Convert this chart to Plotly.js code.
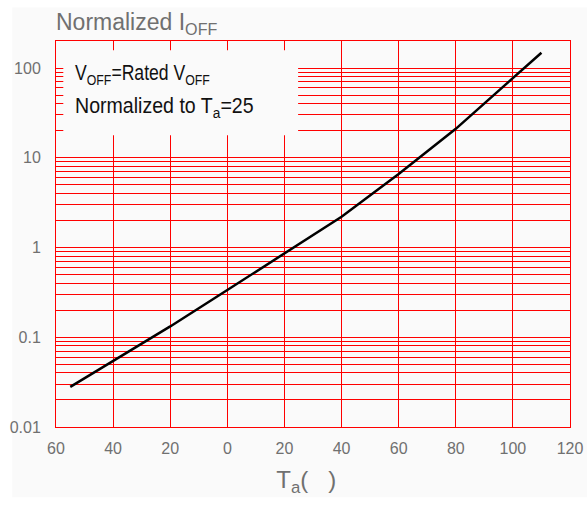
<!DOCTYPE html>
<html>
<head>
<meta charset="utf-8">
<script src="https://cdn.plot.ly/plotly-3.0.1.min.js"></script>
<style>
  html, body { margin: 0; padding: 0; background: #ffffff; width: 587px; height: 506px; overflow: hidden; }
  #chart { position: absolute; left: 0; top: 0; width: 587px; height: 506px; }
</style>
</head>
<body>
<div id="chart"></div>
<script>
// Data
const temperature = [-55, -40, -20, 0, 20, 40, 60, 80, 110];
const normalizedIoff = [0.028, 0.054, 0.132, 0.336, 0.85, 2.2, 6.6, 21, 148];

const xTickValues = [-60, -40, -20, 0, 20, 40, 60, 80, 100, 120];
const xTickLabels = ["60", "40", "20", "0", "20", "40", "60", "80", "100", "120"];

const yDecades = [0.01, 0.1, 1, 10, 100];
const yDecadeLabels = ["0.01", "0.1", "1", "10", "100"];
const yMultipliers = [2, 3, 4, 5, 6, 7, 8, 9];

const yMinorValues = [];
yDecades.forEach(d => {
  yMultipliers.forEach(m => yMinorValues.push(+(d * m).toPrecision(3)));
});

const gray = "#707070";
const baseFont = "Liberation Sans, Arial, sans-serif";

const trace = {
  x: temperature,
  y: normalizedIoff,
  type: "scatter",
  mode: "lines",
  line: { color: "#000000", width: 2.5 },
  hoverinfo: "skip"
};

const layout = {
  width: 587,
  height: 506,
  margin: { l: 56, r: 17, t: 41, b: 79 },
  paper_bgcolor: "#ffffff",
  plot_bgcolor: "#fafafa",
  showlegend: false,
  font: { family: baseFont, color: gray },
  title: {
    text: "Normalized I<sub>OFF</sub>",
    font: { family: baseFont, size: 23, color: gray },
    xref: "paper", x: 0.0, xanchor: "left",
    yref: "container", y: 0.972, yanchor: "top"
  },
  xaxis: {
    range: [-60, 120],
    tickmode: "array",
    tickvals: xTickValues,
    ticktext: xTickLabels,
    ticks: "",
    ticklabelstandoff: 7,
    tickfont: { family: baseFont, size: 16, color: gray },
    showgrid: true, gridcolor: "#ff0000", gridwidth: 1,
    zeroline: false,
    showline: true, linecolor: "#ff0000", linewidth: 1, mirror: true,
    title: { text: "T<sub>a</sub>(   )&nbsp;&nbsp;", font: { family: baseFont, size: 24, color: gray }, standoff: 14 }
  },
  yaxis: {
    type: "log",
    range: [-2, Math.log10(200)],
    tickmode: "array",
    tickvals: yDecades,
    ticktext: yDecadeLabels,
    ticks: "",
    ticklabelstandoff: 11,
    tickfont: { family: baseFont, size: 16, color: gray },
    showgrid: true, gridcolor: "#ff0000", gridwidth: 1,
    minor: {
      tickmode: "array",
      tickvals: yMinorValues,
      ticks: "",
      showgrid: true, gridcolor: "#ff0000", gridwidth: 1
    },
    zeroline: false,
    showline: true, linecolor: "#ff0000", linewidth: 1, mirror: true
  },
  shapes: [
    {
      // light grey backdrop panel of the original figure
      type: "rect", xref: "paper", yref: "paper",
      x0: -0.085, x1: 1.04, y0: -0.182, y1: 1.087,
      fillcolor: "#fafafa", line: { width: 0 }, layer: "below"
    },
    {
      // blank box behind the note
      type: "rect", xref: "paper", yref: "paper",
      x0: 0.0142, x1: 0.471, y0: 0.756, y1: 0.976,
      fillcolor: "#fafafa", line: { width: 0 }, layer: "above"
    }
  ],
  annotations: [
    {
      xref: "paper", yref: "paper", x: 0.034, y: 0.915,
      xanchor: "left", yanchor: "middle", showarrow: false,
      text: "V<sub>OFF</sub>=Rated V<sub>OFF</sub>",
      font: { family: baseFont, size: 22, color: "#111111" }
    },
    {
      xref: "paper", yref: "paper", x: 0.034, y: 0.829,
      xanchor: "left", yanchor: "middle", showarrow: false,
      text: "Normalized to T<sub>a</sub>=25",
      font: { family: baseFont, size: 22, color: "#111111" }
    }
  ]
};

Plotly.newPlot("chart", [trace], layout, { staticPlot: true, displayModeBar: false }).then(gd => {
  // The reference uses a condensed face for the note; compress the note text horizontally.
  const scales = [0.80, 0.89];
  gd.querySelectorAll(".annotation-text").forEach((el, i) => {
    const bb = el.getBBox();
    const sx = scales[i] !== undefined ? scales[i] : 0.85;
    el.setAttribute("transform", `translate(${bb.x},0) scale(${sx},1) translate(${-bb.x},0)`);
  });
});
</script>
</body>
</html>
